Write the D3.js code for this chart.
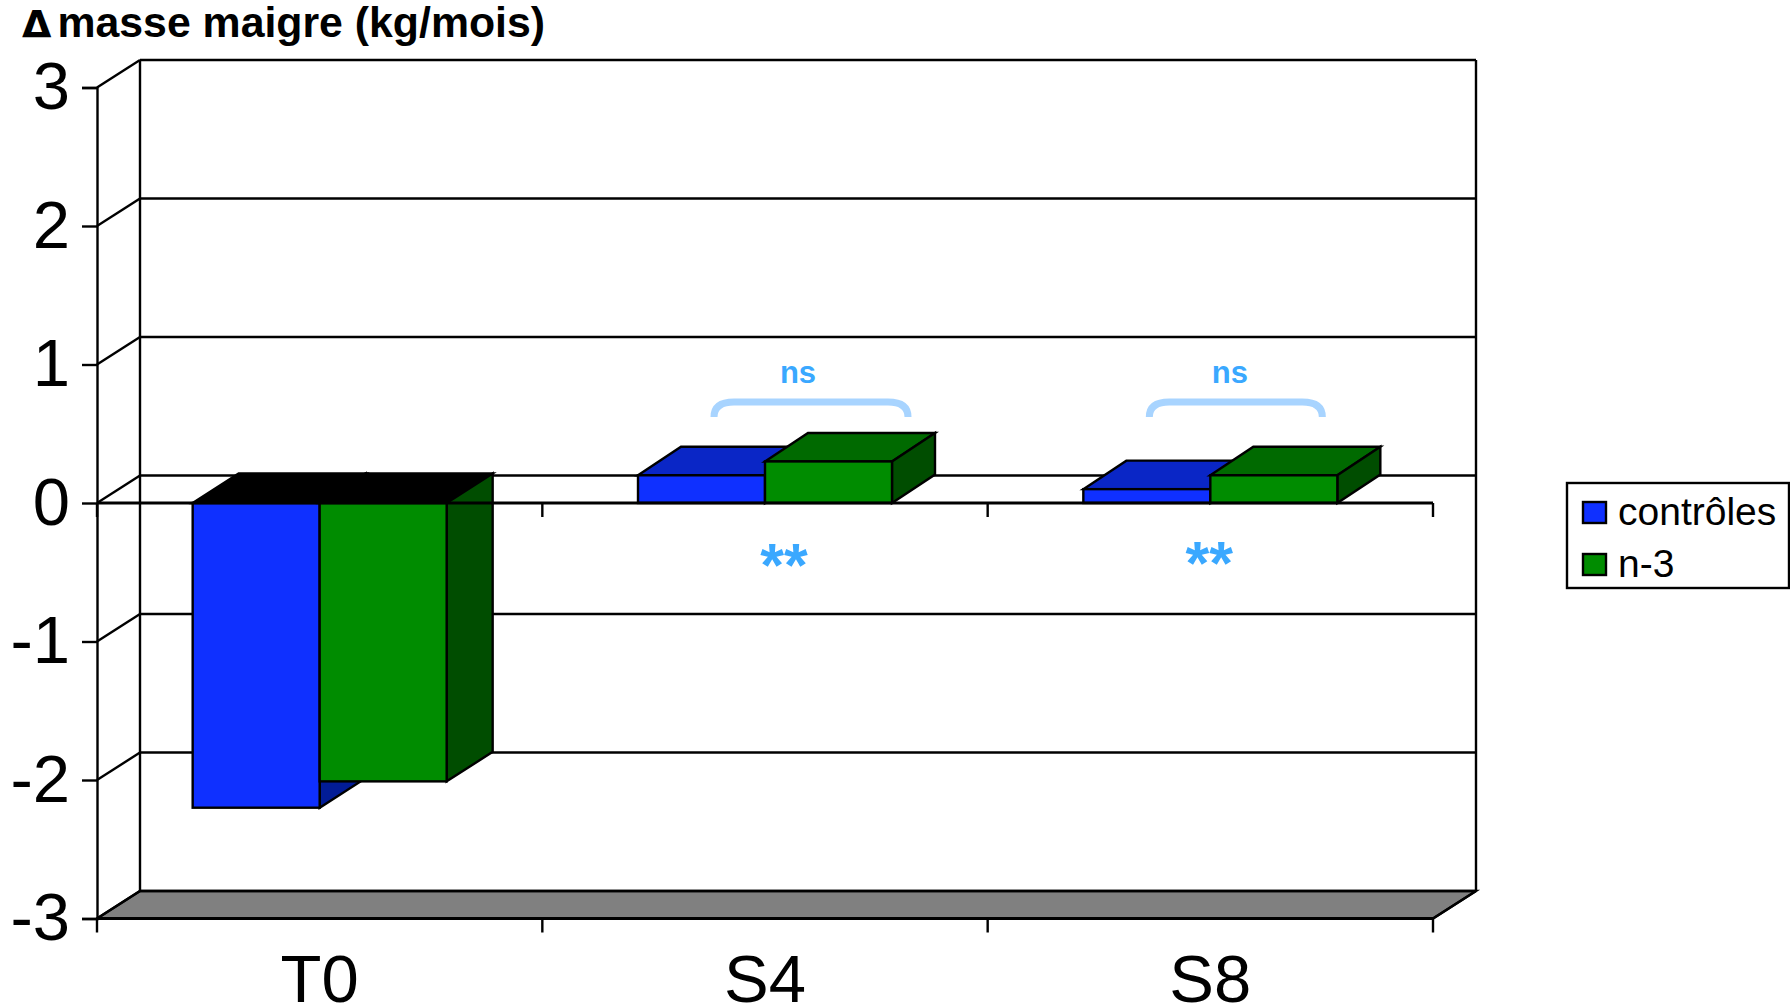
<!DOCTYPE html>
<html>
<head>
<meta charset="utf-8">
<script src="https://cdn.jsdelivr.net/npm/d3@7"></script>
<style>
    html, body { margin: 0; padding: 0; background: #fff; overflow: hidden; }
    text { font-family: "Liberation Sans", Arial, sans-serif; fill: #000; }
</style>
</head>
<body>
<div id="chart"></div>
<script>
const categories = ['T0', 'S4', 'S8']
const controles = [-2.2, 0.2, 0.1]
const n3 = [-2.01, 0.3, 0.2]
const seriesNames = ['contrôles', 'n-3']
const yTicks = [3, 2, 1, 0, -1, -2, -3]
const topLabels = ['ns', 'ns']
const bottomLabels = ['**', '**']

const width = 1790, height = 1008
const depthX = 43, depthY = 27.5
const frontLeft = 97, frontRight = 1433
const barWidth = 127
const lineW = 2.4

const colors = [
    { front: '#0f30ff', top: '#0a26c6', side: '#021c96', topNeg: '#000' },
    { front: '#008c00', top: '#006a00', side: '#004d00', topNeg: '#000' }
]

const svg = d3.select('#chart')
    .append('svg')
    .attr('width', width)
    .attr('height', height)

const x = d3.scaleBand().domain(categories).range([frontLeft, frontRight])
const y = d3.scaleLinear().domain([-3, 3]).range([918.5, 87.5])

const poly = pts => pts.map(p => p.join(',')).join(' ')

// floor
svg.append('polygon')
    .attr('points', poly([
        [frontLeft, y(-3)], [frontLeft + depthX, y(-3) - depthY],
        [frontRight + depthX, y(-3) - depthY], [frontRight, y(-3)]
    ]))
    .attr('fill', '#808080')
    .attr('stroke', '#000')
    .attr('stroke-width', lineW)

// back wall grid and the diagonals on the side wall
svg.append('g').selectAll('line')
    .data(yTicks)
    .join('line')
    .attr('x1', frontLeft + depthX)
    .attr('x2', frontRight + depthX)
    .attr('y1', d => y(d) - depthY)
    .attr('y2', d => y(d) - depthY)
    .attr('stroke', '#000')
    .attr('stroke-width', lineW)

svg.append('g').selectAll('line')
    .data(yTicks)
    .join('line')
    .attr('x1', frontLeft)
    .attr('x2', frontLeft + depthX)
    .attr('y1', d => y(d))
    .attr('y2', d => y(d) - depthY)
    .attr('stroke', '#000')
    .attr('stroke-width', lineW)

// walls verticals
;[frontLeft + depthX, frontRight + depthX].forEach(function (wx) {
    svg.append('line')
        .attr('x1', wx).attr('x2', wx)
        .attr('y1', y(3) - depthY).attr('y2', y(-3) - depthY)
        .attr('stroke', '#000')
        .attr('stroke-width', lineW)
})
svg.append('line')
    .attr('x1', frontRight).attr('x2', frontRight + depthX)
    .attr('y1', y(-3)).attr('y2', y(-3) - depthY)
    .attr('stroke', '#000')
    .attr('stroke-width', lineW)

// 3D bars, controls first so that n-3 overlaps them
function drawBar(g, cat, value, s) {
    const c = colors[s]
    const x0 = x(cat) + x.bandwidth() / 2 - barWidth + s * barWidth
    const x1 = x0 + barWidth
    const yTop = Math.min(y(value), y(0))
    const yBot = Math.max(y(value), y(0))
    // the T0 bars hang below zero and come out a little deeper
    const dx = value < 0 ? depthX + 3 : depthX
    const dy = value < 0 ? depthY + 2 : depthY + 1

    g.append('polygon')
        .attr('points', poly([[x0, yTop], [x0 + dx, yTop - dy], [x1 + dx, yTop - dy], [x1, yTop]]))
        .attr('fill', value < 0 ? c.topNeg : c.top)
        .attr('stroke', '#000').attr('stroke-width', lineW)
    g.append('polygon')
        .attr('points', poly([[x1, yTop], [x1 + dx, yTop - dy], [x1 + dx, yBot - dy], [x1, yBot]]))
        .attr('fill', c.side)
        .attr('stroke', '#000').attr('stroke-width', lineW)
    g.append('rect')
        .attr('x', x0)
        .attr('y', yTop)
        .attr('width', barWidth)
        .attr('height', yBot - yTop)
        .attr('fill', c.front)
        .attr('stroke', '#000').attr('stroke-width', lineW)
}

const bars = svg.append('g')
categories.forEach(function (cat, i) {
    drawBar(bars, cat, controles[i], 0)
    drawBar(bars, cat, n3[i], 1)
})

// Add Y axis
const yAxis = svg.append('g')
    .attr('transform', `translate(${frontLeft}, 0)`)
    .call(d3.axisLeft(y).tickValues(yTicks).tickSize(15).tickPadding(12).tickFormat(d => String(d)))
yAxis.select('.domain').attr('stroke-width', lineW)
yAxis.selectAll('line').attr('stroke-width', lineW)
yAxis.selectAll('text').style('font-size', '67px').style('font-family', '"Liberation Sans"')

// zero line and the category ticks at both levels
const edges = categories.map(c => x(c)).concat([frontRight])
;[0, -3].forEach(function (v) {
    svg.append('line')
        .attr('x1', frontLeft).attr('x2', frontRight)
        .attr('y1', y(v)).attr('y2', y(v))
        .attr('stroke', '#000').attr('stroke-width', 2.8)
    svg.append('g').selectAll('line')
        .data(edges)
        .join('line')
        .attr('x1', d => d).attr('x2', d => d)
        .attr('y1', y(v)).attr('y2', y(v) + 14)
        .attr('stroke', '#000').attr('stroke-width', lineW)
})

// Add X axis labels
const xAxis = svg.append('g')
    .attr('transform', `translate(0, ${y(-3)})`)
    .call(d3.axisBottom(x).tickSize(0).tickPadding(36))
xAxis.select('.domain').remove()
xAxis.selectAll('text').style('font-size', '67px').style('font-family', '"Liberation Sans"')

// title
const title = svg.append('text')
    .attr('x', 22)
    .attr('y', 37)
    .style('font-size', '42.8px')
    .style('font-weight', 'bold')
title.append('tspan').text('Δ').style('font-size', '38px').style('font-family', '"DejaVu Sans"')
title.append('tspan').attr('dx', 6).text('masse maigre (kg/mois)')

// ns brackets over S4 and S8, stars under the zero line
;[1, 2].forEach(function (c, i) {
    const cx = x(categories[c]) + x.bandwidth() / 2
    const left = i === 0 ? cx - 51 : cx - 61
    const right = i === 0 ? cx + 143 : cx + 112
    const yB = y(0) - 86, yT = y(0) - 101
    svg.append('path')
        .attr('d', `M${left},${yB} Q${left},${yT} ${left + 20},${yT} L${right - 20},${yT} Q${right},${yT} ${right},${yB}`)
        .attr('fill', 'none')
        .attr('stroke', '#a8d4ff')
        .attr('stroke-width', 7)
    svg.append('text')
        .attr('x', i === 0 ? (left + right) / 2 - 13 : (left + right) / 2 - 6)
        .attr('y', y(0) - 120)
        .attr('text-anchor', 'middle')
        .style('font-size', '31px')
        .style('font-weight', 'bold')
        .style('fill', '#3aa8ff')
        .text(topLabels[i])
    svg.append('text')
        .attr('x', cx + (i === 0 ? 19 : -1))
        .attr('y', y(0) + (i === 0 ? 83 : 81))
        .attr('text-anchor', 'middle')
        .style('font-size', '61px')
        .style('font-weight', 'bold')
        .style('fill', '#3aa8ff')
        .text(bottomLabels[i])
})

// legend
const legend = svg.append('g').attr('transform', 'translate(1567, 483)')
legend.append('rect')
    .attr('width', 222).attr('height', 105)
    .attr('fill', '#fff').attr('stroke', '#000').attr('stroke-width', lineW)
seriesNames.forEach(function (name, i) {
    legend.append('rect')
        .attr('x', 16).attr('y', 19 + i * 52)
        .attr('width', 23).attr('height', 21)
        .attr('fill', colors[i].front)
        .attr('stroke', '#000').attr('stroke-width', lineW)
    legend.append('text')
        .attr('x', 51).attr('y', 42 + i * 52)
        .style('font-size', '39px')
        .text(name)
})
</script>
</body>
</html>
